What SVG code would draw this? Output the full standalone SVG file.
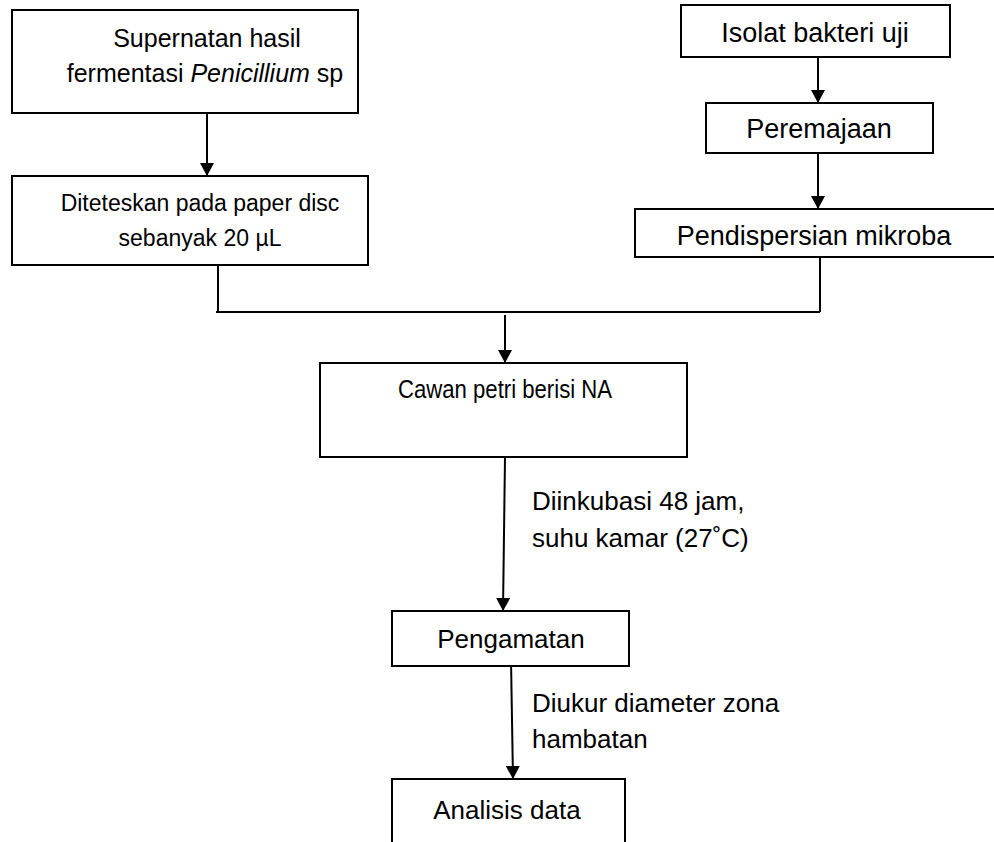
<svg xmlns="http://www.w3.org/2000/svg" width="994" height="842" viewBox="0 0 994 842">
  <style>
    .box { fill: #ffffff; stroke: #000000; stroke-width: 2; }
    .ln { fill: none; stroke: #000000; stroke-width: 2; }
    .t { font-family: "Liberation Sans", Arial, sans-serif; font-size: 26px; fill: #000000; }
    .c { text-anchor: middle; }
    .s { font-size: 23px; }
    .m { font-size: 25px; }
    .l { font-size: 27px; }
  </style>
  <defs>
    <marker id="arrow" markerWidth="13" markerHeight="14" refX="13" refY="7" orient="auto" markerUnits="userSpaceOnUse">
      <path d="M0,0 L13,7 L0,14 Z" fill="#000000"/>
    </marker>
  </defs>
  <rect width="994" height="842" fill="#ffffff"/>

  <!-- connectors -->
  <g id="connectors">
    <line class="ln" x1="207" y1="113" x2="207" y2="176" marker-end="url(#arrow)"/>
    <polyline class="ln" points="218,265 218,312"/>
    <line class="ln" x1="216" y1="312" x2="820" y2="312"/>
    <line class="ln" x1="818" y1="57" x2="818" y2="103" marker-end="url(#arrow)"/>
    <line class="ln" x1="818" y1="153" x2="818" y2="209" marker-end="url(#arrow)"/>
    <polyline class="ln" points="820,257 820,312"/>
    <line class="ln" x1="505" y1="315" x2="505" y2="363" marker-end="url(#arrow)"/>
    <line class="ln" x1="505" y1="457" x2="503" y2="611" marker-end="url(#arrow)"/>
    <line class="ln" x1="511" y1="660" x2="513" y2="779" marker-end="url(#arrow)"/>
  </g>

  <g id="supernatan">
    <rect class="box" x="12" y="10" width="346" height="103"/>
    <text class="t m c" x="207" y="47">Supernatan hasil</text>
    <text class="t m c" x="205" y="82">fermentasi <tspan font-style="italic">Penicillium</tspan> sp</text>
  </g>

  <g id="diteteskan">
    <rect class="box" x="12" y="176" width="356" height="89"/>
    <text class="t s c" x="200" y="211">Diteteskan pada paper disc</text>
    <text class="t s c" x="200" y="246">sebanyak 20 µL</text>
  </g>

  <g id="isolat">
    <rect class="box" x="681" y="5" width="269" height="52"/>
    <text class="t l c" x="815" y="42">Isolat bakteri uji</text>
  </g>

  <g id="peremajaan">
    <rect class="box" x="706" y="103" width="227" height="50"/>
    <text class="t l c" x="819" y="138">Peremajaan</text>
  </g>

  <g id="pendispersian">
    <rect class="box" x="635" y="209" width="360" height="48"/>
    <text class="t l c" x="814" y="245">Pendispersian mikroba</text>
  </g>

  <g id="cawan">
    <rect class="box" x="320" y="363" width="367" height="94"/>
    <text class="t c" x="505" y="398" textLength="214" lengthAdjust="spacingAndGlyphs">Cawan petri berisi NA</text>
  </g>

  <g id="label-inkubasi">
    <text class="t" x="532" y="510">Diinkubasi 48 jam,</text>
    <text class="t" x="532" y="547">suhu kamar (27˚C)</text>
  </g>

  <g id="pengamatan">
    <rect class="box" x="392" y="611" width="237" height="55"/>
    <text class="t c" x="511" y="648">Pengamatan</text>
  </g>

  <g id="label-ukur">
    <text class="t" x="532" y="712">Diukur diameter zona</text>
    <text class="t" x="532" y="748">hambatan</text>
  </g>

  <g id="analisis">
    <path class="ln" d="M392,850 L392,779 L625,779 L625,850"/>
    <text class="t c" x="507" y="819">Analisis data</text>
  </g>
</svg>
